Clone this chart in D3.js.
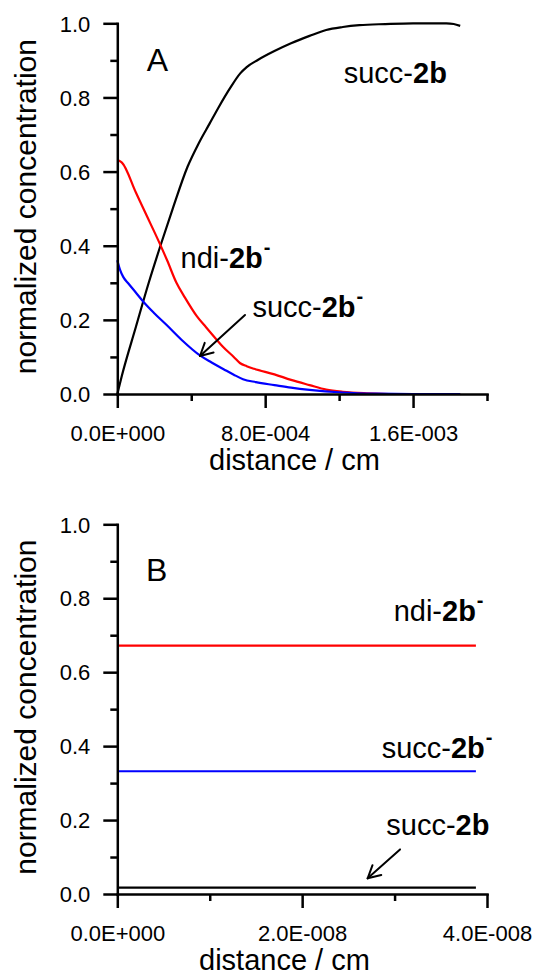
<!DOCTYPE html>
<html><head><meta charset="utf-8">
<script src="https://cdn.jsdelivr.net/npm/d3@7"></script>
<style>
html,body{margin:0;padding:0;background:#fff;}
svg{display:block;}
text{font-family:Arial,"Liberation Sans",Helvetica,sans-serif;fill:#000;}
</style></head><body>
<svg id="chart" width="535" height="974"></svg>
<script>
// ---------- Panel A data (distance / cm, normalized concentration) ----------
const distA_succ2b = [0, 0.25e-4, 1.0e-4, 1.7e-4, 2.4e-4, 3.0e-4, 3.8e-4, 4.4e-4, 5.0e-4, 5.5e-4, 6.1e-4, 6.65e-4, 7.0e-4, 7.6e-4, 8.5e-4, 9.4e-4, 10.4e-4, 11.3e-4, 12.2e-4, 13.1e-4, 14.5e-4, 16.0e-4, 17.8e-4, 18.2e-4, 18.55e-4];
const succ2bA      = [0, 0.05, 0.18, 0.30, 0.41, 0.50, 0.613, 0.676, 0.73, 0.775, 0.825, 0.865, 0.882, 0.901, 0.925, 0.946, 0.966, 0.982, 0.99, 0.995, 0.998, 1.0, 1.0, 0.998, 0.993];

const distA_ndi = [0, 0.1e-4, 0.25e-4, 1.0e-4, 1.6e-4, 2.23e-4, 2.7e-4, 3.2e-4, 3.66e-4, 4.3e-4, 4.8e-4, 5.4e-4, 5.7e-4, 6.3e-4, 6.65e-4, 7.0e-4, 7.4e-4, 8.5e-4, 9.4e-4, 10.4e-4, 11.3e-4, 12.2e-4, 13.5e-4, 15.0e-4, 17.0e-4, 18.55e-4];
const ndiA      = [0.631, 0.629, 0.624, 0.544, 0.48, 0.413, 0.36, 0.30, 0.26, 0.21, 0.18, 0.145, 0.128, 0.10, 0.083, 0.075, 0.068, 0.053, 0.038, 0.024, 0.012, 0.006, 0.002, 0.0, 0.0, 0.0];

const distA_succMinus = [0, 0.15e-4, 0.32e-4, 0.6e-4, 1.0e-4, 1.41e-4, 2.0e-4, 2.67e-4, 3.5e-4, 4.47e-4, 5.1e-4, 5.75e-4, 6.3e-4, 6.8e-4, 7.5e-4, 8.5e-4, 9.4e-4, 10.4e-4, 12.2e-4, 14.0e-4, 16.0e-4, 18.55e-4];
const succMinusA      = [0.361, 0.335, 0.316, 0.298, 0.274, 0.249, 0.218, 0.186, 0.145, 0.104, 0.085, 0.067, 0.052, 0.040, 0.032, 0.024, 0.017, 0.011, 0.004, 0.001, 0.0, 0.0];

// ---------- Panel B data ----------
const distB       = [0, 3.88e-8];
const ndiB        = [0.672, 0.672];
const succMinusB  = [0.332, 0.332];
const succ2bB     = [0.017, 0.017];

// ---------- ticks ----------
const yMajor = [0, 0.2, 0.4, 0.6, 0.8, 1.0];
const yMinor = [0.1, 0.3, 0.5, 0.7, 0.9];
const xMajorA = [0, 8e-4, 1.6e-3];
const xMajorLabelsA = ["0.0E+000", "8.0E-004", "1.6E-003"];
const xMinorA = [4e-4, 1.2e-3, 2.0e-3];
const xMajorB = [0, 2e-8, 4e-8];
const xMajorLabelsB = ["0.0E+000", "2.0E-008", "4.0E-008"];
const xMinorB = [1e-8, 3e-8];

const svg = d3.select("#chart");

const left = 117.3, right = 487;
const panels = [
  {
    top: 23.3, bottom: 394, xMax: 2.0e-3,
    xMajor: xMajorA, xLabels: xMajorLabelsA, xMinor: xMinorA,
    series: [
      {x: distA_succ2b, y: succ2bA, color: "#000000"},
      {x: distA_ndi, y: ndiA, color: "#ff0000"},
      {x: distA_succMinus, y: succMinusA, color: "#0000ff"}
    ],
    letter: {t: "A", x: 0.159e-3, y: 0.87},
    labels: [
      {x: 1.225e-3, y: 0.838, parts: [["succ-", "normal"], ["2b", "bold"]]},
      {x: 0.342e-3, y: 0.339, parts: [["ndi-", "normal"], ["2b", "bold"], ["-", "sup"]]},
      {x: 0.731e-3, y: 0.2085, parts: [["succ-", "normal"], ["2b", "bold"], ["-", "sup"]]}
    ],
    arrow: {x1: 0.6908e-3, y1: 0.213, x2: 0.4474e-3, y2: 0.1025},
    titleX: 209
  },
  {
    top: 524.3, bottom: 894, xMax: 4.0e-8,
    xMajor: xMajorB, xLabels: xMajorLabelsB, xMinor: xMinorB,
    series: [
      {x: distB, y: ndiB, color: "#ff0000"},
      {x: distB, y: succMinusB, color: "#0000ff"},
      {x: distB, y: succ2bB, color: "#000000"}
    ],
    letter: {t: "B", x: 0.31e-8, y: 0.847},
    labels: [
      {x: 2.99e-8, y: 0.739, parts: [["ndi-", "normal"], ["2b", "bold"], ["-", "sup"]]},
      {x: 2.86e-8, y: 0.369, parts: [["succ-", "normal"], ["2b", "bold"], ["-", "sup"]]},
      {x: 2.91e-8, y: 0.159, parts: [["succ-", "normal"], ["2b", "bold"]]}
    ],
    arrow: {x1: 3.059e-8, y1: 0.1206, x2: 2.709e-8, y2: 0.0424},
    titleX: 199
  }
];

const AX_W = 2.5;

panels.forEach(p => {
  const x = d3.scaleLinear().domain([0, p.xMax]).range([left, right]);
  const y = d3.scaleLinear().domain([0, 1]).range([p.bottom, p.top]);
  const g = svg.append("g");

  // data lines
  const line = d3.line().x(d => x(d[0])).y(d => y(d[1])).curve(d3.curveMonotoneX);
  p.series.forEach(s => {
    g.append("path")
      .datum(s.x.map((v, i) => [v, s.y[i]]))
      .attr("fill", "none")
      .attr("stroke", s.color)
      .attr("stroke-width", 2.2)
      .attr("stroke-linejoin", "round")
      .attr("d", line);
  });

  // y axis minor
  const yMin = g.append("g").attr("transform", `translate(${left},0)`)
    .call(d3.axisLeft(y).tickValues(yMinor).tickSize(7).tickFormat(""));
  yMin.select(".domain").remove();
  // y axis major
  const yAx = g.append("g").attr("transform", `translate(${left},0)`)
    .call(d3.axisLeft(y).tickValues(yMajor).tickSizeInner(14).tickSizeOuter(0).tickPadding(13).tickFormat(d3.format(".1f")));
  // x axis minor
  const xMin = g.append("g").attr("transform", `translate(0,${p.bottom})`)
    .call(d3.axisBottom(x).tickValues(p.xMinor).tickSize(7).tickFormat(""));
  xMin.select(".domain").remove();
  // x axis major
  const xAx = g.append("g").attr("transform", `translate(0,${p.bottom})`)
    .call(d3.axisBottom(x).tickValues(p.xMajor).tickSizeInner(14).tickSizeOuter(0).tickPadding(17.5)
      .tickFormat((d, i) => p.xLabels[i]));

  [yMin, yAx, xMin, xAx].forEach(a => {
    a.selectAll("line").attr("stroke", "#000").attr("stroke-width", AX_W);
    a.selectAll(".domain").attr("stroke", "#000").attr("stroke-width", AX_W).attr("stroke-linecap", "square");
    a.selectAll("text").attr("font-size", 22).attr("fill", "#000")
      .style("font-family", "Arial, 'Liberation Sans', sans-serif");
  });
  yAx.selectAll("text").attr("dy", "0.35em");
  xAx.selectAll("text").attr("dy", "0.71em");

  // axis titles
  g.append("text")
    .attr("x", p.titleX).attr("y", p.bottom + 75.5)
    .attr("font-size", 29)
    .text("distance / cm");
  g.append("text")
    .attr("transform", `translate(35.5,${(p.top + p.bottom) / 2 - 2}) rotate(-90)`)
    .attr("text-anchor", "middle")
    .attr("font-size", 30)
    .text("normalized concentration");

  // panel letter
  g.append("text")
    .attr("x", x(p.letter.x)).attr("y", y(p.letter.y))
    .attr("font-size", 32)
    .text(p.letter.t);

  // series labels
  p.labels.forEach(l => {
    const t = g.append("text").attr("x", x(l.x)).attr("y", y(l.y)).attr("font-size", 29);
    l.parts.forEach(pt => {
      if (pt[1] === "sup") {
        t.append("tspan").attr("font-weight", "bold").attr("font-size", 20)
          .attr("dy", -14).attr("dx", 1).text(pt[0]);
      } else {
        t.append("tspan").attr("font-weight", pt[1]).text(pt[0]);
      }
    });
  });

  // arrow
  const a = p.arrow;
  const X1 = x(a.x1), Y1 = y(a.y1), X2 = x(a.x2), Y2 = y(a.y2);
  const ang = Math.atan2(Y1 - Y2, X1 - X2);
  const L = 14, half = 28 * Math.PI / 180;
  const ag = g.append("g").attr("stroke", "#000").attr("stroke-width", 2).attr("fill", "none").attr("stroke-linecap", "round");
  ag.append("line").attr("x1", X1).attr("y1", Y1).attr("x2", X2).attr("y2", Y2);
  [ang - half, ang + half].forEach(an => {
    ag.append("line").attr("x1", X2).attr("y1", Y2)
      .attr("x2", X2 + L * Math.cos(an)).attr("y2", Y2 + L * Math.sin(an));
  });
});
</script>
</body></html>
